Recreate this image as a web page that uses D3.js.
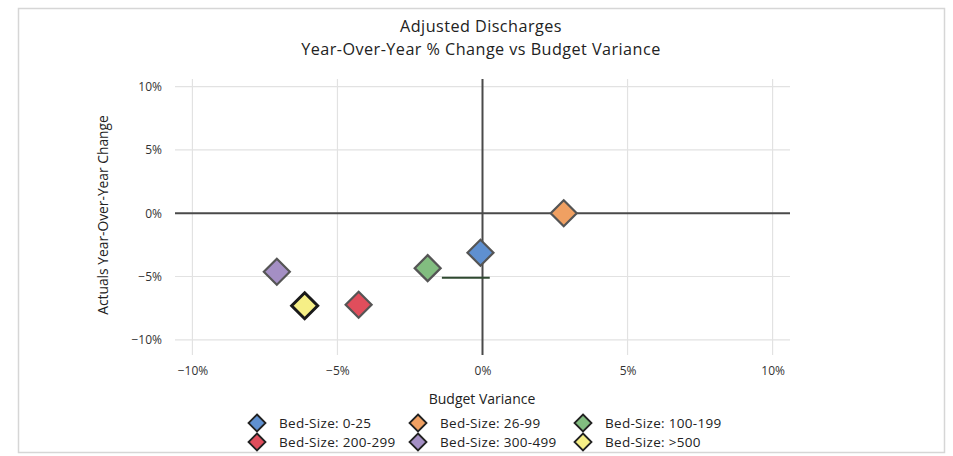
<!DOCTYPE html>
<html>
<head>
<meta charset="utf-8">
<script src="https://cdn.jsdelivr.net/npm/d3@7"></script>
<style>
  html, body { margin: 0; padding: 0; background: #fff; }
  svg { display: block; font-family: "Open Sans", "Noto Sans", sans-serif; }
</style>
</head>
<body>
<svg id="chart" width="953" height="456"></svg>
<script>
// Bed-size groups and their budget variance (x, %) vs year-over-year change (y, %)
const categories = ["Bed-Size: 0-25", "Bed-Size: 26-99", "Bed-Size: 100-199",
                    "Bed-Size: 200-299", "Bed-Size: 300-499", "Bed-Size: >500"];
const budgetVariance = [-0.07, 2.8, -1.89, -4.27, -7.09, -6.13];
const yoyChange = [-3.12, 0, -4.34, -7.23, -4.62, -7.31];
const colors = ["#5f90d0", "#f0a062", "#82bd80", "#e04e5c", "#a48fc4", "#f6ef86"];
const xTicks = [-10, -5, 0, 5, 10];
const yTicks = [-10, -5, 0, 5, 10];
// short reference segment drawn near the -5% line
const refSegX = [-1.4, 0.25];
const refSegY = [-5.1, -5.1];

const svg = d3.select("#chart");

// outer frame
svg.append("rect")
  .attr("x", 18.5).attr("y", 8.5).attr("width", 926).attr("height", 444)
  .attr("fill", "#fff").attr("stroke", "#d6d6d6").attr("stroke-width", 1.5);

const x = d3.scaleLinear().domain([-10.6, 10.6]).range([175, 790]);
const y = d3.scaleLinear().domain([-11.2, 10.6]).range([355, 79]);

const fmt = d => (d < 0 ? "\u2212" + Math.abs(d) : d) + "%";

// gridlines
const grid = svg.append("g");
grid.selectAll("line.v").data(xTicks.filter(d => d !== 0)).join("line")
  .attr("x1", d => x(d)).attr("x2", d => x(d))
  .attr("y1", y.range()[1]).attr("y2", y.range()[0])
  .attr("stroke", "#e2e2e2").attr("stroke-width", 1.2);
grid.selectAll("line.h").data(yTicks.filter(d => d !== 0)).join("line")
  .attr("x1", x.range()[0]).attr("x2", x.range()[1])
  .attr("y1", d => y(d)).attr("y2", d => y(d))
  .attr("stroke", "#e2e2e2").attr("stroke-width", 1.2);

// zero axes
svg.append("line")
  .attr("x1", x.range()[0]).attr("x2", x.range()[1])
  .attr("y1", y(0)).attr("y2", y(0))
  .attr("stroke", "#4a4a4a").attr("stroke-width", 2);
svg.append("line")
  .attr("x1", x(0)).attr("x2", x(0))
  .attr("y1", y.range()[1]).attr("y2", y.range()[0])
  .attr("stroke", "#4a4a4a").attr("stroke-width", 2);

// y tick labels
const yAxis = d3.axisLeft(y).tickValues(yTicks).tickFormat(fmt).tickSize(0).tickPadding(0);
const gy = svg.append("g").attr("transform", `translate(${x.range()[0] - 13},0)`).call(yAxis);
gy.select(".domain").remove();
gy.selectAll("text").attr("font-size", 12).attr("fill", "#333")
  .attr("font-family", "Open Sans, sans-serif");

// x tick labels
const xAxis = d3.axisBottom(x).tickValues(xTicks).tickFormat(fmt).tickSize(0).tickPadding(0);
const gx = svg.append("g").attr("transform", `translate(0,${y.range()[0] + 11})`).call(xAxis);
gx.select(".domain").remove();
gx.selectAll("text").attr("font-size", 12).attr("fill", "#333")
  .attr("font-family", "Open Sans, sans-serif");

// reference segment
svg.append("line")
  .attr("x1", x(refSegX[0])).attr("x2", x(refSegX[1]))
  .attr("y1", y(refSegY[0])).attr("y2", y(refSegY[1]))
  .attr("stroke", "#2f4a30").attr("stroke-width", 1.8);

// diamond markers
const diamond = r => `M0,${-r}L${r},0L0,${r}L${-r},0Z`;
const points = categories.map((c, i) => ({ c, xv: budgetVariance[i], yv: yoyChange[i], col: colors[i], i }));
svg.append("g").selectAll("path").data(points).join("path")
  .attr("d", diamond(13))
  .attr("transform", d => `translate(${x(d.xv)},${y(d.yv)})`)
  .attr("fill", d => d.col)
  .attr("stroke", d => d.i === 5 ? "#1a1a1a" : "#555")
  .attr("stroke-width", d => d.i === 5 ? 3 : 2.2)
  .attr("stroke-linejoin", "miter");

// titles
svg.append("text").attr("x", 481).attr("y", 32).attr("text-anchor", "middle")
  .attr("font-size", 16.2).attr("letter-spacing", 0.45).attr("fill", "#222")
  .text("Adjusted Discharges");
svg.append("text").attr("x", 481).attr("y", 55).attr("text-anchor", "middle")
  .attr("font-size", 16.2).attr("letter-spacing", 0.45).attr("fill", "#222")
  .text("Year-Over-Year % Change vs Budget Variance");

svg.append("text").attr("x", 482).attr("y", 404).attr("text-anchor", "middle")
  .attr("font-size", 14).attr("fill", "#222").text("Budget Variance");
svg.append("text").attr("transform", "translate(108,215) rotate(-90)").attr("text-anchor", "middle")
  .attr("font-size", 13.8).attr("fill", "#222").text("Actuals Year-Over-Year Change");

// legend: 3 columns x 2 rows
const colX = [257, 418, 583];
const rowY = [423, 442];
const lg = svg.append("g").selectAll("g").data(points).join("g")
  .attr("transform", d => `translate(${colX[d.i % 3]},${rowY[Math.floor(d.i / 3)]})`);
lg.append("path").attr("d", diamond(8.5))
  .attr("fill", d => d.col).attr("stroke", "#222").attr("stroke-width", 1.8);
lg.append("text").attr("x", 22).attr("y", 4.5).attr("font-size", 13.5)
  .attr("letter-spacing", 0.3).attr("fill", "#222")
  .text(d => d.c);
</script>
</body>
</html>
